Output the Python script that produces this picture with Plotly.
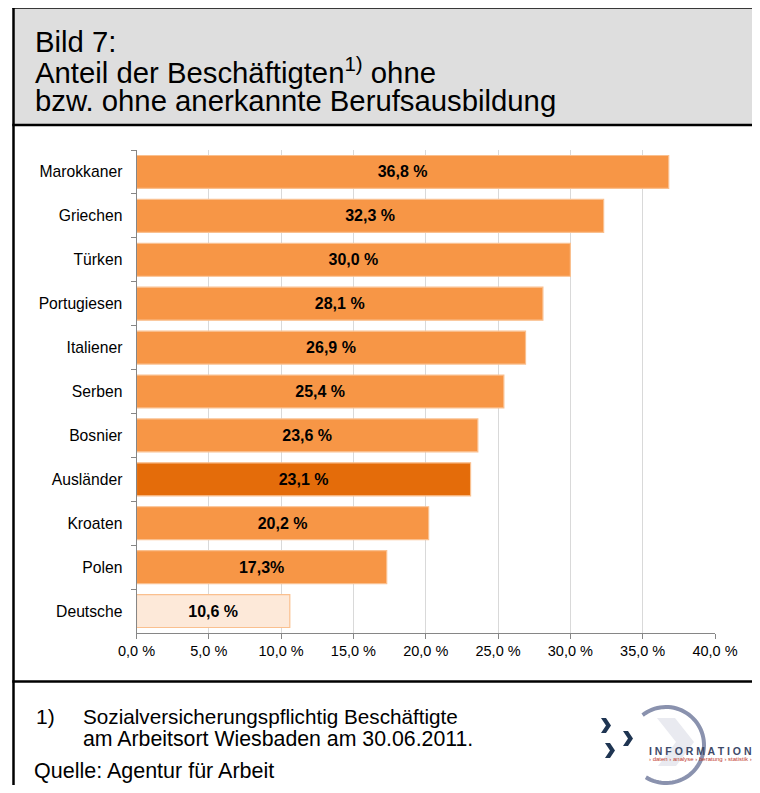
import math
import plotly.graph_objects as go

# ---------------- data ----------------
categories = ["Marokkaner", "Griechen", "Türken", "Portugiesen", "Italiener",
              "Serben", "Bosnier", "Ausländer", "Kroaten", "Polen", "Deutsche"]
values = [36.8, 32.3, 30.0, 28.1, 26.9, 25.4, 23.6, 23.1, 20.2, 17.3, 10.6]
value_labels = ["36,8 %", "32,3 %", "30,0 %", "28,1 %", "26,9 %", "25,4 %",
                "23,6 %", "23,1 %", "20,2 %", "17,3%", "10,6 %"]
tick_values = [0, 5, 10, 15, 20, 25, 30, 35, 40]
tick_labels = ["0,0 %", "5,0 %", "10,0 %", "15,0 %", "20,0 %", "25,0 %",
               "30,0 %", "35,0 %", "40,0 %"]

# page body has an 8px margin; lay the figure out in page coordinates
OFF = 8
W, H = 752, 777
FONT = "Liberation Sans, Arial, Helvetica, sans-serif"

def px(x):
    return (x - OFF) / W

def py(y):
    return 1 - (y - OFF) / H

bar_colors = []
for c in categories:
    if c == "Ausländer":
        bar_colors.append("#E46C0A")
    elif c == "Deutsche":
        bar_colors.append("#FDE9D9")
    else:
        bar_colors.append("#F79646")

fig = go.Figure()
fig.add_trace(go.Bar(
    x=values, y=categories, orientation="h",
    marker=dict(color=bar_colors, line=dict(color="#FAC08F", width=1.2)),
    width=0.75,
    text=value_labels, textposition="inside", insidetextanchor="middle",
    constraintext="none",
    textfont=dict(family=FONT, size=16, color="black", weight=700),
    hoverinfo="skip",
))

shapes = []
# title box
shapes.append(dict(type="rect", xref="paper", yref="paper", layer="below",
                   x0=px(13), x1=px(775), y0=py(7.5), y1=py(125),
                   fillcolor="#DEDEDE", line=dict(width=0)))
# border lines
line_style = dict(color="black", width=2.5)
shapes.append(dict(type="line", xref="paper", yref="paper",
                   x0=px(13.5), x1=px(13.5), y0=py(6.5), y1=py(810), line=line_style))
shapes.append(dict(type="line", xref="paper", yref="paper",
                   x0=px(12.3), x1=px(775), y0=py(7.5), y1=py(7.5), line=line_style))
shapes.append(dict(type="line", xref="paper", yref="paper",
                   x0=px(12.3), x1=px(775), y0=py(125), y1=py(125), line=line_style))
shapes.append(dict(type="line", xref="paper", yref="paper",
                   x0=px(12.3), x1=px(775), y0=py(681.5), y1=py(681.5), line=line_style))

# ---- logo (decoration) ----
cx, cy, r = 666, 745, 38
pts = []
a0, a1 = 128, -122
n = 60
for i in range(n + 1):
    a = math.radians(a0 + (a1 - a0) * i / n)
    pts.append((cx + r * math.cos(a), cy - r * math.sin(a)))
arc = "M " + " L ".join(f"{px(x):.5f},{py(y):.5f}" for x, y in pts)
shapes.append(dict(type="path", xref="paper", yref="paper", path=arc,
                   line=dict(color="#8A92AE", width=4)))
# faint big chevron inside circle
big = [(657, 718), (675, 718), (694, 742), (676, 766), (658, 766), (676, 742)]
shapes.append(dict(type="path", xref="paper", yref="paper",
                   path="M " + " L ".join(f"{px(x):.5f},{py(y):.5f}" for x, y in big) + " Z",
                   fillcolor="#E9EAF0", line=dict(width=0)))

def chevron(x, y, w=10, h=15, t=5):
    p = [(x, y), (x + t, y), (x + w, y + h / 2), (x + t, y + h), (x, y + h), (x + w - t, y + h / 2)]
    return "M " + " L ".join(f"{px(a):.5f},{py(b):.5f}" for a, b in p) + " Z"

for (x0, y0) in [(601, 718), (623, 731), (605, 743)]:
    shapes.append(dict(type="path", xref="paper", yref="paper", path=chevron(x0, y0),
                       fillcolor="#1F3552", line=dict(width=0)))

annotations = []
def text(x, y, s, size, color="black", anchor="left", weight=400):
    annotations.append(dict(xref="paper", yref="paper", x=px(x), y=py(y), text=s,
                            showarrow=False, xanchor=anchor, yanchor="middle",
                            font=dict(family=FONT, size=size, color=color, weight=weight)))

text(33, 41, "Bild 7:", 29.3)
text(33, 70, "Anteil der Beschäftigten<sup>1)</sup> ohne", 29.3)
text(33, 100, "bzw. ohne anerkannte Berufsausbildung", 29.3)

text(34, 716, "1)", 21)
text(81, 716, "Sozialversicherungspflichtig Beschäftigte", 20.7)
text(81, 739, "am Arbeitsort Wiesbaden am 30.06.2011.", 21.3)
text(32, 771, "Quelle: Agentur für Arbeit", 21.5)

text(647, 751, "I N F O R M A T I O N", 10.5, color="#3E4A68", weight=700)
text(647, 759, "› daten › analyse › beratung › statistik ›", 6, color="#C0392B")

fig.update_layout(
    width=W, height=H,
    margin=dict(l=0, r=0, t=0, b=0, autoexpand=False),
    paper_bgcolor="white", plot_bgcolor="white",
    showlegend=False,
    shapes=shapes, annotations=annotations,
    xaxis=dict(domain=[px(136.5), px(715)], range=[0, 40],
               tickvals=tick_values, ticktext=tick_labels,
               tickfont=dict(family=FONT, size=14.5, color="black"),
               showgrid=True, gridcolor="#D9D9D9", gridwidth=1,
               zeroline=False, showline=True, linecolor="#868686", linewidth=1,
               ticks="outside", ticklen=5, tickcolor="#868686", anchor="y",
               automargin=False, fixedrange=True),
    yaxis=dict(domain=[py(633), py(150)],
               categoryorder="array", categoryarray=categories, autorange="reversed",
               tickfont=dict(family=FONT, size=15.7, color="black"),
               showgrid=False, zeroline=False, showline=True,
               linecolor="#868686", linewidth=1,
               ticks="outside", ticklen=5, tickcolor="#868686", tickson="boundaries",
               ticklabelstandoff=10, anchor="x", automargin=False, fixedrange=True),
)

fig.write_html("out.html")
